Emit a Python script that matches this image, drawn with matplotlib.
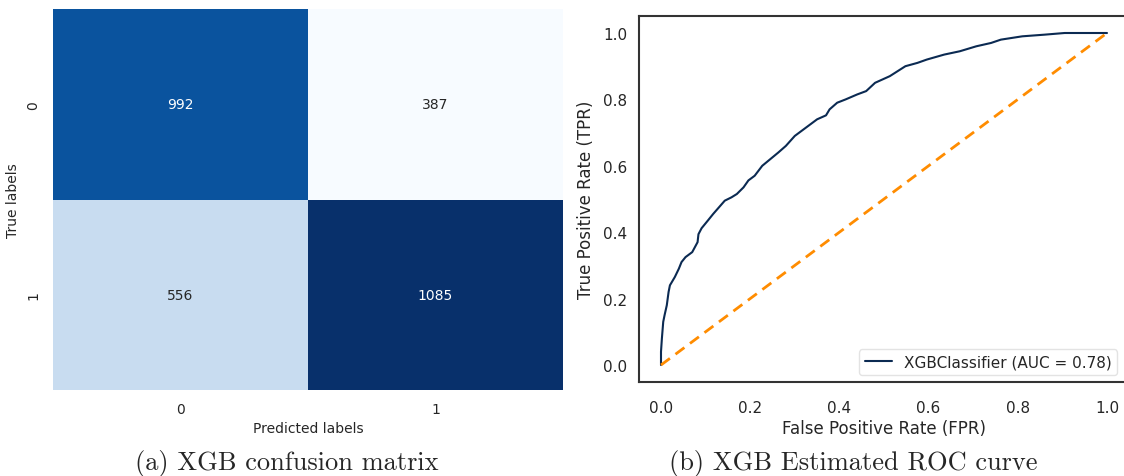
import matplotlib
matplotlib.use("Agg")
import matplotlib.pyplot as plt
import seaborn as sns
import numpy as np

# ---- data ----
class_labels = ["0", "1"]
cm_row0 = [992, 387]
cm_row1 = [556, 1085]

fpr = [0.0, 0.0, 0.002, 0.005, 0.008, 0.013, 0.017, 0.020, 0.031, 0.040, 0.046,
       0.055, 0.061, 0.070, 0.076, 0.082, 0.084, 0.091, 0.105, 0.117, 0.130,
       0.143, 0.158, 0.170, 0.185, 0.196, 0.210, 0.227, 0.245, 0.263, 0.280,
       0.300, 0.325, 0.350, 0.370, 0.378, 0.395, 0.414, 0.440, 0.460, 0.480,
       0.513, 0.548, 0.575, 0.596, 0.635, 0.670, 0.707, 0.740, 0.762, 0.810,
       0.860, 0.905, 1.0]
tpr = [0.0, 0.04, 0.08, 0.13, 0.15, 0.18, 0.22, 0.24, 0.265, 0.29, 0.31,
       0.325, 0.331, 0.34, 0.355, 0.37, 0.394, 0.412, 0.435, 0.455, 0.475,
       0.495, 0.505, 0.515, 0.535, 0.556, 0.57, 0.60, 0.62, 0.64, 0.66,
       0.69, 0.715, 0.74, 0.752, 0.77, 0.79, 0.80, 0.815, 0.825, 0.85,
       0.87, 0.90, 0.91, 0.92, 0.935, 0.945, 0.96, 0.97, 0.98, 0.99,
       0.995, 1.0, 1.0]
chance = [0.0, 1.0]
auc_text = "XGBClassifier (AUC = 0.78)"

sns.set_style("white")
plt.rcParams["font.family"] = ["DejaVu Sans"]

fig = plt.figure(figsize=(11.24, 4.77), dpi=100)
W, H = 1124, 477

# ---- confusion matrix ----
ax1 = fig.add_axes([53 / W, 1 - 391 / H, 510 / W, 381 / H])
cm = np.array([cm_row0, cm_row1])
sns.heatmap(cm, annot=True, fmt="d", cmap="Blues", cbar=False, ax=ax1,
            xticklabels=class_labels, yticklabels=class_labels,
            annot_kws={"fontsize": 10})
ax1.set_xlabel("Predicted labels", fontsize=10, color=".15", labelpad=3)
ax1.set_ylabel("True labels", fontsize=10, color=".15", labelpad=5)
ax1.tick_params(axis="both", labelsize=10, colors=".15", length=0, pad=9)

# ---- ROC ----
left = 638.7
ax2 = fig.add_axes([left / W, 1 - 382.6 / H, (1129.3 - left) / W, 365.2 / H])
ax2.plot(fpr, tpr, color="#0b2a52", lw=1.5, label=auc_text)
ax2.plot(chance, chance, color="darkorange", lw=2, ls=(0, (4, 2.5)))
ax2.set_xlim(-0.05, 1.05)
ax2.set_ylim(-0.05, 1.05)
ax2.set_xticks([0, 0.2, 0.4, 0.6, 0.8, 1.0])
ax2.set_yticks([0, 0.2, 0.4, 0.6, 0.8, 1.0])
ax2.tick_params(axis="x", labelsize=11, colors=".15", length=0, pad=13)
ax2.tick_params(axis="y", labelsize=11, colors=".15", length=0, pad=8)
ax2.set_xlabel("False Positive Rate (FPR)", fontsize=12, color=".15", labelpad=3)
ax2.set_ylabel("True Positive Rate (TPR)", fontsize=12, color=".15", labelpad=6)
for s in ax2.spines.values():
    s.set_color(".2")
    s.set_linewidth(1.5)
leg = ax2.legend(loc="lower right", fontsize=11, frameon=True,
                 bbox_to_anchor=(0.985, 0.005), handlelength=1.8,
                 borderpad=0.35, borderaxespad=0.3)
leg.get_frame().set_edgecolor("#dddddd")

# ---- captions ----
fig.text(287 / W, 1 - 464 / H, "(a) XGB confusion matrix", family="cmr10",
         fontsize=19, ha="center", va="center")
fig.text(853 / W, 1 - 464 / H, "(b) XGB Estimated ROC curve", family="cmr10",
         fontsize=19, ha="center", va="center")

fig.savefig("out.png", dpi=100)
